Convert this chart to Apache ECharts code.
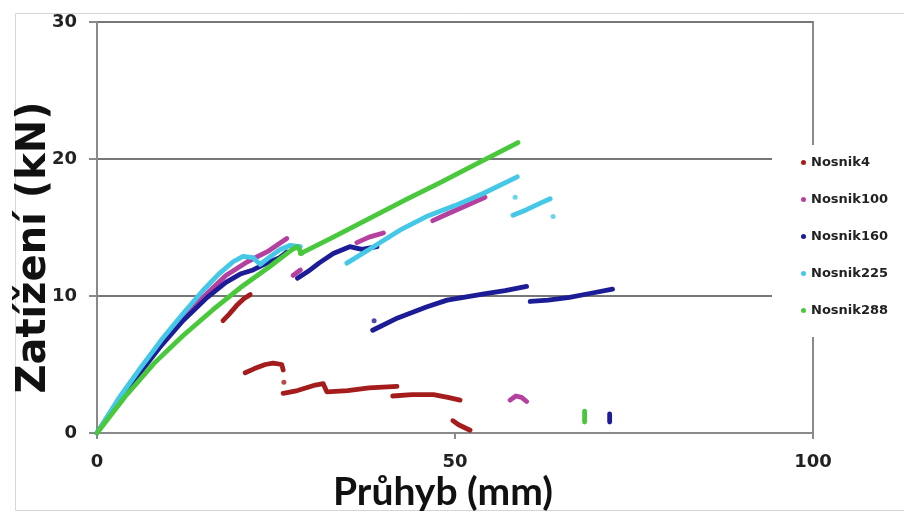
<!DOCTYPE html>
<html>
<head>
<meta charset="utf-8">
<script src="https://cdn.jsdelivr.net/npm/echarts@6/dist/echarts.min.js"></script>
<style>html,body{margin:0;padding:0;background:#fff;}#c{width:904px;height:519px;}</style>
</head>
<body>
<div id="c"></div>
<script>
// ---- data (Průhyb mm, Zatížení kN) ----
const seriesNames = ['Nosnik4', 'Nosnik100', 'Nosnik160', 'Nosnik225', 'Nosnik288'];
const xTicks = [0, 50, 100];
const yTicks = [0, 10, 20, 30];

// line segments for each beam
const n4Segments = [
  [[17.6, 8.2], [18.5, 8.7], [19.5, 9.3], [20.5, 9.8], [21.4, 10.1]],
  [[20.7, 4.4], [22.0, 4.7], [23.5, 5.0], [24.6, 5.1], [25.8, 5.0], [26.0, 4.6]],
  [[26.0, 2.9], [28.0, 3.1], [30.5, 3.5], [31.6, 3.6], [32.1, 3.0], [35.0, 3.1], [38.0, 3.3], [41.9, 3.4]],
  [[41.3, 2.7], [44.0, 2.8], [47.0, 2.8], [49.0, 2.6], [50.7, 2.4]],
  [[49.7, 0.9], [50.5, 0.6], [51.3, 0.4], [52.1, 0.2]]
];
const n4Dots = [[26.1, 3.7]];

const n100Segments = [
  [[0, 0], [3, 2.4], [6, 4.5], [9, 6.5], [12, 8.4], [15, 10.0], [18, 11.5], [21, 12.5], [24, 13.3], [26.5, 14.2]],
  [[27.4, 11.5], [28.4, 11.9]],
  [[36.3, 13.9], [38.0, 14.3], [40.0, 14.6]],
  [[46.9, 15.5], [49.0, 16.0], [52.0, 16.7], [54.2, 17.2]],
  [[57.7, 2.4], [58.5, 2.7], [59.3, 2.6], [60.0, 2.3]]
];
const n100Dots = [];

const n160Segments = [
  [[0, 0], [3, 2.3], [6, 4.4], [9, 6.4], [12, 8.2], [15.4, 9.9], [18, 11.0], [20, 11.6], [21.8, 11.9], [23.7, 12.4], [25.5, 12.8], [26.5, 13.2]],
  [[28.0, 11.3], [29.5, 11.8], [31.0, 12.4], [33.0, 13.1], [35.3, 13.6], [37.0, 13.4], [39.1, 13.6]],
  [[38.5, 7.5], [42.0, 8.4], [46.0, 9.2], [48.9, 9.7], [54.5, 10.2], [57.0, 10.4], [60.0, 10.7]],
  [[60.5, 9.6], [63.0, 9.7], [66.0, 9.9], [69.0, 10.2], [72.0, 10.5]],
  [[71.6, 0.8], [71.6, 1.4]]
];
const n160Dots = [[38.7, 8.2]];

const n225Segments = [
  [[0, 0], [3, 2.5], [6, 4.7], [9, 6.8], [12, 8.7], [14.8, 10.4], [17, 11.6], [19, 12.5], [20.4, 12.9], [21.8, 12.8], [22.8, 12.3], [24, 12.8], [25.6, 13.4], [27, 13.7], [28.4, 13.6]],
  [[34.9, 12.4], [38.0, 13.4], [42.3, 14.8], [46.0, 15.8], [50.0, 16.6], [54.0, 17.5], [58.7, 18.7]],
  [[58.1, 15.9], [60.0, 16.3], [62.0, 16.8], [63.3, 17.1]]
];
const n225Dots = [[58.4, 17.2], [63.7, 15.8]];

const n288Segments = [
  [[0, 0], [4, 2.7], [8, 5.1], [12, 7.1], [16.2, 9.0], [20, 10.6], [24, 12.1], [27, 13.3], [28, 13.6], [28.6, 13.1]],
  [[28.4, 13.1], [33.0, 14.3], [38.0, 15.65], [43.0, 17.0], [48.0, 18.3], [53.0, 19.65], [58.8, 21.2]],
  [[68.1, 0.8], [68.1, 1.6]]
];
const n288Dots = [];

const colors = ['#a51c1c', '#b5409f', '#1c1c96', '#45c8e8', '#48c83a'];

// ---- build ----
function joinSegments(segs) {
  const out = [];
  segs.forEach((s, i) => { if (i > 0) out.push(null); s.forEach(p => out.push(p)); });
  return out;
}
const allSegs = [n4Segments, n100Segments, n160Segments, n225Segments, n288Segments];
const allDots = [n4Dots, n100Dots, n160Dots, n225Dots, n288Dots];

const series = [];
seriesNames.forEach((name, i) => {
  series.push({
    name: name, type: 'line', data: joinSegments(allSegs[i]),
    showSymbol: false, symbol: 'circle', connectNulls: false,
    lineStyle: { color: colors[i], width: 4.8, cap: 'round', join: 'round' },
    itemStyle: { color: colors[i] }, z: 2 + i
  });
  series.push({
    name: name, type: 'scatter', data: allDots[i], symbolSize: 5,
    itemStyle: { color: colors[i] }, z: 2 + i
  });
});

const chart = echarts.init(document.getElementById('c'), null, { renderer: 'canvas' });
const labelFont = { color: '#222', fontSize: 18, fontWeight: 'bold', fontFamily: 'DejaVu Sans, sans-serif' };
chart.setOption({
  animation: false,
  backgroundColor: '#fff',
  grid: { left: 97, right: 91, top: 22, bottom: 86, containLabel: false, outerBoundsMode: 'none', show: true, borderColor: '#8a8a8a', borderWidth: 2, backgroundColor: 'transparent' },
  graphic: [{
    type: 'rect', shape: { x: 15.5, y: 13.5, width: 1000, height: 497 },
    style: { fill: 'none', stroke: '#d6d6d6', lineWidth: 1 }, z: -10, silent: true
  }],
  xAxis: {
    type: 'value', min: xTicks[0], max: xTicks[xTicks.length - 1], interval: 50,
    name: 'Průhyb (mm)', nameLocation: 'middle', nameGap: 40, nameMoveOverlap: false,
    nameTextStyle: { color: '#111', fontSize: 39, fontWeight: 'bold', fontFamily: 'Lato, Open Sans, sans-serif', padding: [0, 24, 0, 0] },
    axisLine: { show: true, lineStyle: { color: '#8a8a8a', width: 2 } },
    axisTick: { show: true, length: 6, lineStyle: { color: '#8a8a8a', width: 2 } },
    axisLabel: Object.assign({ margin: 20 }, labelFont),
    splitLine: { show: false }
  },
  yAxis: {
    type: 'value', min: yTicks[0], max: yTicks[yTicks.length - 1], interval: 10,
    name: 'Zatížení (kN)', nameLocation: 'middle', nameGap: 42, nameRotate: 90, nameMoveOverlap: false,
    nameTextStyle: { color: '#111', fontSize: 40, fontWeight: 'bold', fontFamily: 'DejaVu Sans, sans-serif', padding: [0, 40, 0, 0] },
    axisLine: { show: true, lineStyle: { color: '#8a8a8a', width: 2 } },
    axisTick: { show: true, length: 8, lineStyle: { color: '#8a8a8a', width: 2 } },
    axisLabel: Object.assign({ margin: 20 }, labelFont),
    splitLine: { show: true, lineStyle: { color: '#777', width: 2 } }
  },
  legend: {
    data: seriesNames, orient: 'vertical', left: 772, top: 145,
    backgroundColor: '#fff', padding: [11, 80, 20, 29], itemGap: 24,
    itemWidth: 5, itemHeight: 5, icon: 'circle',
    textStyle: { color: '#222', fontSize: 13, fontWeight: 'bold', fontFamily: 'DejaVu Sans, sans-serif' },
    z: 20
  },
  series: series
});
</script>
</body>
</html>
